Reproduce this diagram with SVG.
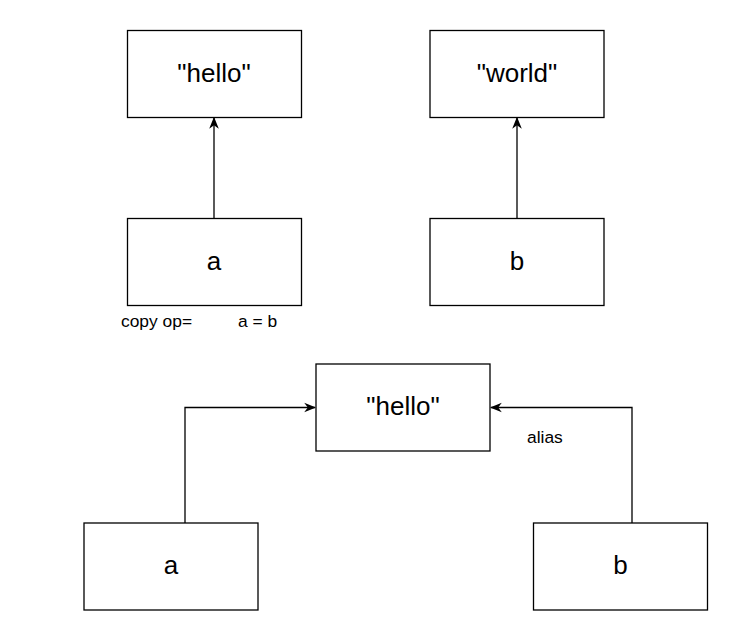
<svg xmlns="http://www.w3.org/2000/svg" width="756" height="630" viewBox="0 0 756 630">
<defs>
<marker id="arr" viewBox="0 0 10 10" refX="9" refY="5" markerWidth="12" markerHeight="12" markerUnits="userSpaceOnUse" orient="auto">
<path d="M0,1 L10,5 L0,9 L3,5 Z" fill="#000"/>
</marker>
<style>
.box{fill:#fff;stroke:#000;stroke-width:1.3}
.lbl{font-family:"Liberation Sans",Arial,sans-serif;font-size:26px;text-anchor:middle;dominant-baseline:central;fill:#000}
.sm{font-family:"Liberation Sans",Arial,sans-serif;font-size:17.4px;fill:#000}
.edge{fill:none;stroke:#000;stroke-width:1.3;marker-end:url(#arr)}
</style>
</defs>
<rect width="756" height="630" fill="#fff"/>
<g id="connectors">
<path class="edge" d="M214,218 V118"/>
<path class="edge" d="M517,218 V118"/>
<path class="edge" d="M185,523 V407.5 H315"/>
<path class="edge" d="M632,523 V407.5 H491"/>
</g>
<g id="hello1"><rect class="box" x="127.5" y="30.5" width="174" height="87"/><text class="lbl" x="214" y="73">"hello"</text></g>
<g id="world"><rect class="box" x="430" y="30.5" width="174" height="87"/><text class="lbl" x="517" y="73">"world"</text></g>
<g id="a1"><rect class="box" x="127.5" y="218.5" width="174" height="87"/><text class="lbl" x="214" y="261">a</text></g>
<g id="b1"><rect class="box" x="430" y="218.5" width="174" height="87"/><text class="lbl" x="517" y="261">b</text></g>
<g id="hello2"><rect class="box" x="316" y="364" width="174" height="87"/><text class="lbl" x="403" y="406">"hello"</text></g>
<g id="a2"><rect class="box" x="84" y="523" width="174" height="87"/><text class="lbl" x="171" y="565">a</text></g>
<g id="b2"><rect class="box" x="533.5" y="523" width="174" height="87"/><text class="lbl" x="620.5" y="565">b</text></g>
<g id="labels">
<text class="sm" x="121" y="327">copy op=</text>
<text class="sm" x="238" y="327">a = b</text>
<text class="sm" x="527" y="443">alias</text>
</g>
</svg>
